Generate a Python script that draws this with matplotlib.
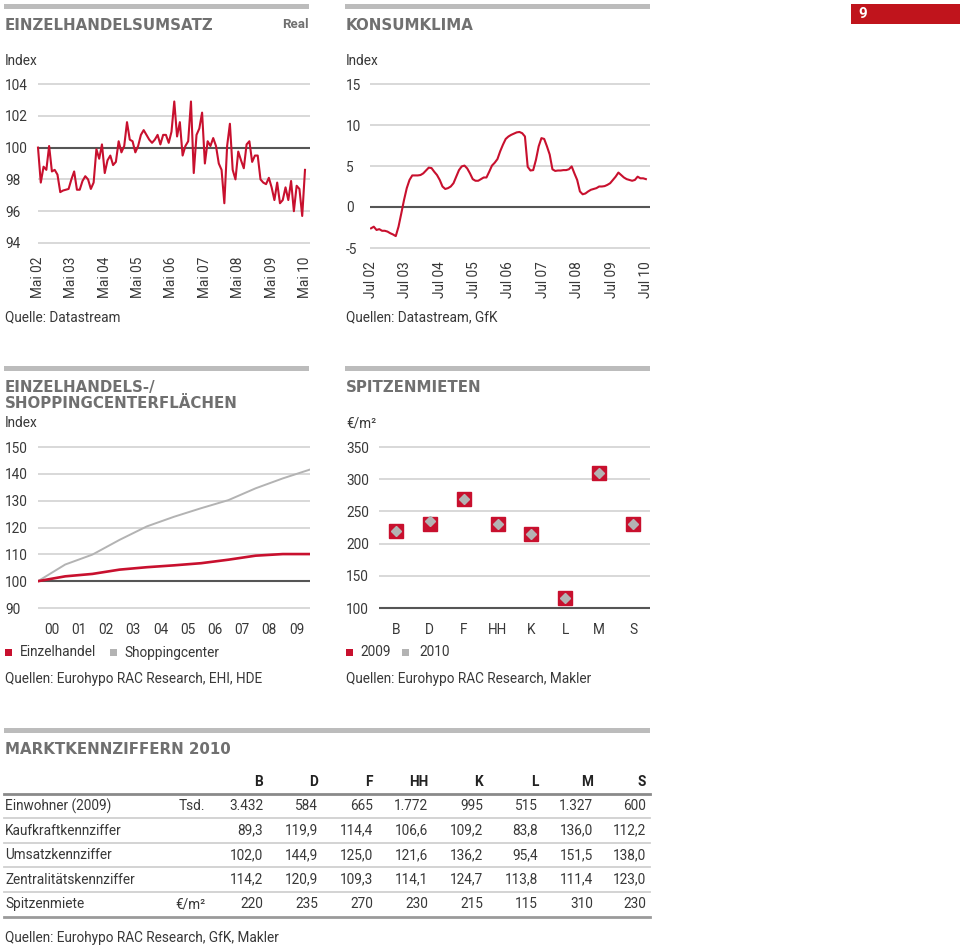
import matplotlib
matplotlib.use('Agg')
import matplotlib.pyplot as plt
import numpy as np
from matplotlib.patches import Rectangle
from matplotlib.lines import Line2D

plt.rcParams['font.family'] = ['Roboto', 'DejaVu Sans']
plt.rcParams['font.size'] = 9.8

W, H = 960, 946
RED = '#c8102e'
GRAY = '#b3b3b3'
GRID = '#d6d6d6'
DARK = '#555555'
TXT = '#383838'
TITLE = '#707070'
BAR = '#bcbcbc'

# --- Einzelhandelsumsatz (real, Index), monatlich Mai 02 - Mai 10
umsatz_labels = ['Mai 02', 'Mai 03', 'Mai 04', 'Mai 05', 'Mai 06',
                 'Mai 07', 'Mai 08', 'Mai 09', 'Mai 10']
umsatz = [100.0, 97.8, 98.8, 98.6, 100.1, 98.5, 98.6, 98.3, 97.2, 97.3,
          97.35, 97.4, 98.0, 98.5, 97.35, 97.35, 97.9, 98.2, 98.0, 97.4,
          97.8, 99.9, 99.3, 100.2, 98.4, 99.2, 99.5, 98.9, 99.1, 100.4,
          99.7, 100.1, 101.6, 100.5, 100.4, 99.7, 100.1, 100.8, 101.1, 100.8,
          100.5, 100.3, 100.5, 100.8, 100.2, 100.8, 100.8, 100.3, 101.0, 102.9,
          100.7, 101.6, 99.5, 100.1, 100.4, 102.9, 98.4, 100.8, 101.2, 102.2,
          99.0, 100.4, 100.1, 100.6, 100.1, 99.0, 98.6, 96.5, 100.1, 101.5,
          98.6, 98.0, 99.75, 99.2, 98.7, 100.2, 100.4, 99.1, 99.5, 99.5,
          98.0, 97.8, 97.7, 98.1, 97.5, 96.7, 97.8, 96.5, 96.7, 97.5,
          96.7, 97.9, 96.0, 97.6, 97.4, 95.7, 98.6]

# --- Konsumklima (Index), monatlich Jul 02 - Jul 10
konsum_labels = ['Jul 02', 'Jul 03', 'Jul 04', 'Jul 05', 'Jul 06',
                 'Jul 07', 'Jul 08', 'Jul 09', 'Jul 10']
konsum = [-2.6, -2.4, -2.8, -2.7, -2.9, -2.9, -3.0, -3.2, -3.35, -3.55,
          -2.4, -0.8, 0.85, 2.3, 3.3, 3.85, 3.85, 3.85, 3.9, 4.1,
          4.45, 4.8, 4.75, 4.3, 3.9, 3.3, 2.5, 2.2, 2.3, 2.5,
          2.9, 3.7, 4.5, 4.95, 5.05, 4.7, 4.1, 3.4, 3.2, 3.2,
          3.4, 3.6, 3.6, 4.3, 5.05, 5.4, 5.85, 6.8, 7.6, 8.3,
          8.6, 8.8, 8.95, 9.1, 9.15, 9.0, 8.6, 4.9, 4.45, 4.5,
          5.75, 7.4, 8.4, 8.3, 7.4, 6.4, 4.6, 4.4, 4.45, 4.45,
          4.5, 4.5, 4.6, 4.95, 4.1, 3.3, 1.9, 1.55, 1.65, 1.9,
          2.1, 2.2, 2.3, 2.5, 2.5, 2.55, 2.7, 2.9, 3.3, 3.7,
          4.2, 3.9, 3.6, 3.4, 3.3, 3.2, 3.3, 3.7, 3.5, 3.5, 3.4]

# --- Einzelhandels-/Shoppingcenterflaechen (Index)
flaechen_jahre = ['00', '01', '02', '03', '04', '05', '06', '07', '08', '09']
einzelhandel = [100, 101.8, 102.7, 104.3, 105.2, 105.9, 106.7, 108.0, 109.5, 110.1, 110.1]
shoppingcenter = [100, 106.2, 109.9, 115.4, 120.4, 124.0, 127.2, 130.2, 134.6, 138.3, 141.6]

# --- Spitzenmieten (EUR/m2)
staedte = ['B', 'D', 'F', 'HH', 'K', 'L', 'M', 'S']
miete_2009 = [220, 230, 270, 230, 215, 115, 310, 230]
miete_2010 = [220, 235, 270, 230, 215, 115, 310, 230]

# --- Marktkennziffern 2010
zeilen = ['Einwohner (2009)', 'Kaufkraftkennziffer', 'Umsatzkennziffer',
          'Zentralitätskennziffer', 'Spitzenmiete']
einheiten = ['Tsd.', '', '', '', '€/m²']
einwohner = ['3.432', '584', '665', '1.772', '995', '515', '1.327', '600']
kaufkraft = ['89,3', '119,9', '114,4', '106,6', '109,2', '83,8', '136,0', '112,2']
umsatzkz = ['102,0', '144,9', '125,0', '121,6', '136,2', '95,4', '151,5', '138,0']
zentralitaet = ['114,2', '120,9', '109,3', '114,1', '124,7', '113,8', '111,4', '123,0']

fig = plt.figure(figsize=(W / 100, H / 100), dpi=100)


def ftext(x, y, s, **kw):
    kw.setdefault('color', TXT)
    kw.setdefault('va', 'center')
    return fig.text(x / W, 1 - y / H, s, **kw)


def frect(x0, y0, x1, y1, color):
    fig.add_artist(Rectangle((x0 / W, 1 - y1 / H), (x1 - x0) / W, (y1 - y0) / H,
                             transform=fig.transFigure, color=color, lw=0))


def fline(x0, x1, y, color, lw):
    fig.add_artist(Line2D([x0 / W, x1 / W], [1 - y / H, 1 - y / H],
                          transform=fig.transFigure, color=color, lw=lw))


def title(x, y, s, **kw):
    ftext(x, y, s, color=TITLE, fontsize=10.8, fontweight='bold',
          family='DejaVu Sans', **kw)


def make_axes(x0, x1, xlim, ytop, ybot, ylo, yhi, yticks, base, labx, pad=4):
    k = (yhi - ylo) / (ybot - ytop)
    ax = fig.add_axes([x0 / W, 1 - (ybot + pad) / H, (x1 - x0) / W,
                       (ybot - ytop + 2 * pad) / H])
    ax.set_xlim(xlim)
    ax.set_ylim(ylo - pad * k, yhi + pad * k)
    for s in ax.spines.values():
        s.set_visible(False)
    ax.set_yticks(yticks)
    ax.set_yticklabels([str(t) for t in yticks])
    ax.yaxis.grid(True, color=GRID, lw=1.3)
    ax.set_axisbelow(True)
    ax.tick_params(axis='y', length=0, pad=(x0 - labx) * 0.72, labelcolor=TXT)
    for lb in ax.get_yticklabels():
        lb.set_ha('left')
    ax.axhline(base, color=DARK, lw=1.5, zorder=1)
    ax.tick_params(axis='x', length=0, labelcolor=TXT)
    ax.patch.set_alpha(0)
    return ax


# ---------- Panel 1: Einzelhandelsumsatz
frect(4, 4, 309, 9, BAR)
title(5, 25, 'EINZELHANDELSUMSATZ')
ftext(309, 25, 'Real', color=TITLE, fontsize=9.5, fontweight='bold', ha='right')
ftext(5, 61, 'Index')
ax1 = make_axes(38, 310, (0, 8.15), 84, 243, 94, 104,
                [94, 96, 98, 100, 102, 104], 100, 5)
x1 = np.arange(len(umsatz)) / 12.0
ax1.plot(x1, umsatz, color=RED, lw=1.5, zorder=3, clip_on=False)
ax1.set_xticks(range(len(umsatz_labels)))
ax1.set_xticklabels(umsatz_labels, rotation=90)
ax1.tick_params(axis='x', pad=7)
ftext(5, 317, 'Quelle: Datastream')

# ---------- Panel 2: Konsumklima
frect(345, 4, 650, 9, BAR)
title(346, 25, 'KONSUMKLIMA')
ftext(346, 61, 'Index')
ax2 = make_axes(370, 650, (-0.03, 8.12), 84, 248, -5, 15,
                [-5, 0, 5, 10, 15], 0, 346)
x2 = np.arange(len(konsum)) * 8.0 / (len(konsum) - 1)
ax2.plot(x2, konsum, color=RED, lw=1.5, zorder=3)
ax2.set_xticks(range(len(konsum_labels)))
ax2.set_xticklabels(konsum_labels, rotation=90)
ax2.tick_params(axis='x', pad=6.5)
ftext(346, 317, 'Quellen: Datastream, GfK')

# page number
frect(851, 4, 960, 24, '#c0141c')
ftext(858, 14.5, '9', color='white', fontsize=11, fontweight='bold')

# ---------- Panel 3: Flaechen
frect(4, 366, 309, 371, BAR)
title(5, 387, 'EINZELHANDELS-/')
title(5, 404, 'SHOPPINGCENTERFLÄCHEN')
ftext(5, 423, 'Index')
ax3 = make_axes(38, 310, (0, 10), 447, 608, 90, 150,
                [90, 100, 110, 120, 130, 140, 150], 100, 5)
x3 = np.arange(len(einzelhandel))
ax3.plot(x3, shoppingcenter, color=GRAY, lw=1.4, zorder=3)
ax3.plot(x3, einzelhandel, color=RED, lw=1.9, zorder=4)
ax3.set_xticks(np.arange(len(flaechen_jahre)) + 0.5)
ax3.set_xticklabels(flaechen_jahre)
ax3.tick_params(axis='x', pad=8)
frect(5, 649, 12, 656, RED)
ftext(20, 652.5, 'Einzelhandel')
frect(110, 649, 117, 656, GRAY)
ftext(124, 652.5, 'Shoppingcenter')
ftext(5, 679, 'Quellen: Eurohypo RAC Research, EHI, HDE')

# ---------- Panel 4: Spitzenmieten
frect(345, 366, 650, 371, BAR)
title(346, 387, 'SPITZENMIETEN')
ftext(346, 423, '€/m²')
ax4 = make_axes(379, 650, (-0.5, 7.5), 447, 608, 100, 350,
                [100, 150, 200, 250, 300, 350], 100, 346)
x4 = np.arange(len(staedte))
ax4.plot(x4, miete_2009, ls='none', marker='s', ms=10, color=RED,
         mec=RED, zorder=3, clip_on=False)
ax4.plot(x4, miete_2010, ls='none', marker='D', ms=5, color=GRAY,
         mec=GRAY, zorder=4, clip_on=False)
ax4.set_xticks(x4)
ax4.set_xticklabels(staedte)
ax4.tick_params(axis='x', pad=8)
frect(346, 649, 353, 656, RED)
ftext(360, 652.5, '2009')
frect(402, 649, 409, 656, GRAY)
ftext(419, 652.5, '2010')
ftext(346, 679, 'Quellen: Eurohypo RAC Research, Makler')

# ---------- Table: Marktkennziffern 2010
frect(4, 728, 650, 733, BAR)
title(5, 749, 'MARKTKENNZIFFERN 2010')
col_right = [263, 318, 373, 428, 483, 538, 593, 646]
for xr, st in zip(col_right, staedte):
    ftext(xr, 782, st, ha='right', fontweight='bold', color='#222222')
fline(4, 650, 794, '#8a8a8a', 2.0)
spitzen = [str(v) for v in miete_2010]
tab_rows = [einwohner, kaufkraft, umsatzkz, zentralitaet, spitzen]
row_y = [806, 830.5, 855, 879.5, 904]
for i, (lab, unit, vals) in enumerate(zip(zeilen, einheiten, tab_rows)):
    y = row_y[i]
    ftext(5, y, lab)
    if unit:
        ftext(205, y, unit, ha='right')
    for xr, v in zip(col_right, vals):
        ftext(xr, y, v, ha='right')
    if i < len(tab_rows) - 1:
        fline(4, 650, y + 12.2, '#d0d0d0', 1.3)
fline(4, 650, 917, '#9a9a9a', 2.0)
ftext(5, 938, 'Quellen: Eurohypo RAC Research, GfK, Makler')

fig.savefig('out.png', dpi=100)
